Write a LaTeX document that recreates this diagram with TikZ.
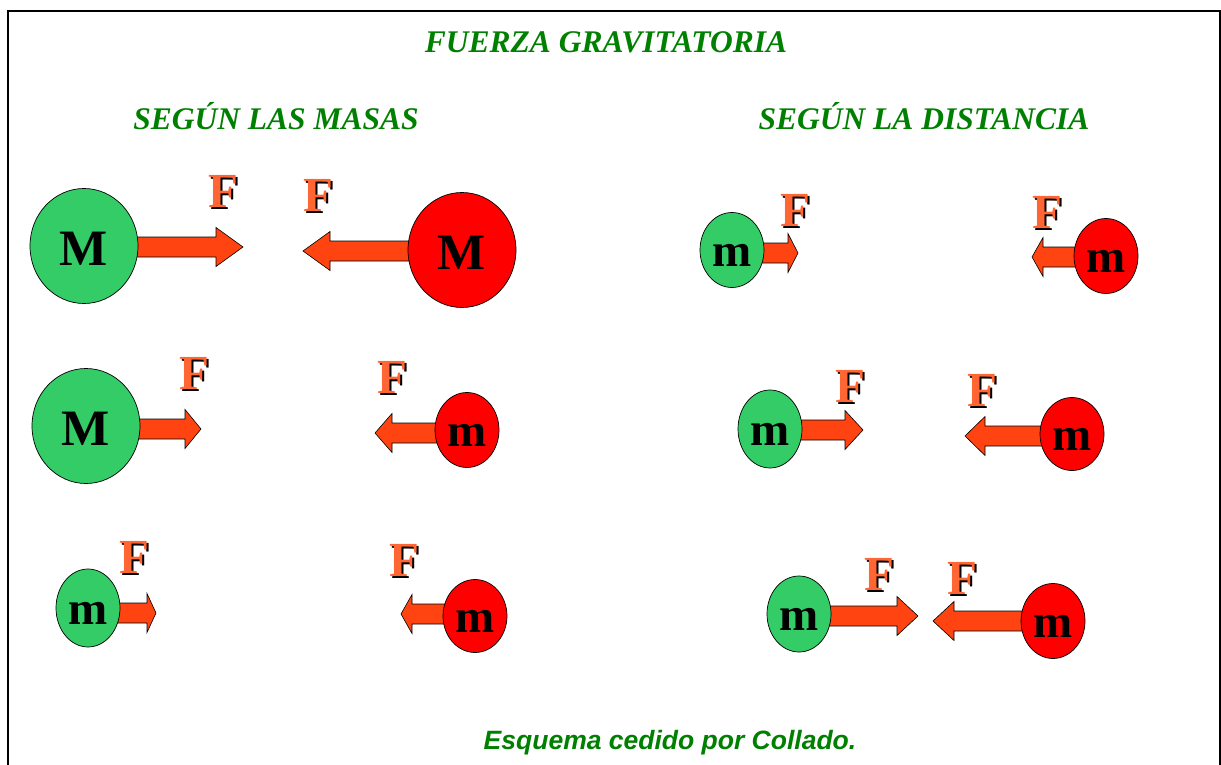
\documentclass[tikz,border=0pt]{standalone}
\usepackage{fontspec}
\setmainfont{Liberation Serif}
\newfontfamily\arialfont{Liberation Sans}
\usetikzlibrary{shapes.geometric,calc,backgrounds}
\definecolor{verdetit}{RGB}{0,128,0}
\definecolor{verdemasa}{RGB}{51,204,102}
\definecolor{rojomasa}{RGB}{255,0,0}
\definecolor{flechacol}{RGB}{255,68,17}
\definecolor{efecol}{RGB}{255,102,51}
\newcommand{\efe}{\makebox[0pt][l]{\hspace*{2pt}\raisebox{-2pt}[0pt][0pt]{\color{black}F}}\textcolor{efecol}{F}}

\begin{document}
\begin{tikzpicture}[
			x=1pt,y=-1pt,
			masa/.style={
				draw=black,
				line width=0.7pt,
				ellipse,
				inner sep=0pt,
				minimum width=64pt,
				minimum height=75pt,
				font=\fontsize{47}{50}\selectfont\bfseries,
				text height=33pt,
				text depth=0pt
			},
			grande/.style={
				minimum width=108pt,
				minimum height=115pt,
				font=\fontsize{51}{54}\selectfont\bfseries,
				text height=38pt
			},
			verde/.style={masa, fill=verdemasa},
			roja/.style={masa, fill=rojomasa},
			efe/.style={inner sep=0pt, font=\fontsize{49}{52}\selectfont\bfseries},
			titulo/.style={text=verdetit, font=\fontsize{31.5}{36}\selectfont\bfseries\itshape},
			fuerza/.style={
				draw=black,
				line width=0.6pt,
				fill=flechacol,
				to path={let \p1=(\tikztostart), \p2=(\tikztotarget), \n1={ifthenelse(\x2>\x1,1,-1)} in
					(\x1,\y2+10pt) -- (\x2-\n1*#1,\y2+10pt) -- (\x2-\n1*#1,\y2+19.5pt)
					-- (\x2,\y2) -- (\x2-\n1*#1,\y2-19.5pt) -- (\x2-\n1*#1,\y2-10pt)
					-- (\x1,\y2-10pt) -- cycle}
			},
			fuerza/.default=22pt
			]
			\useasboundingbox (0,0) rectangle (1221,765);
			\clip (0,0) rectangle (1221,765);
			
			% Frame
			\draw[line width=1.5pt] (8,775) -- (8,11) -- (1220,11) -- (1220,775);
			
			% Titles
			\node[titulo] (tit) at (606,42) {FUERZA GRAVITATORIA};
			\node[titulo] (masas) at (276,116) {SEGÚN LAS MASAS};
			\node[titulo] (dist) at (924,116) {SEGÚN LA DISTANCIA};
			\node[text=verdetit, font=\arialfont\fontsize{26.5}{30}\selectfont\bfseries\itshape] (pie) at (670,743) {Esquema cedido por Collado.};
			
			% Masses, left column
			\node[verde, grande] (gM1) at (84,246) {M};
			\node[roja, grande] (rM1) at (462,250) {M};
			\node[verde, grande] (gM2) at (86,426) {M};
			\node[roja] (rm2) at (467,430) {m};
			\node[verde, minimum height=78pt] (gm3) at (88,608) {m};
			\node[roja, minimum height=73pt] (rm3) at (475,616) {m};
			
			% Masses, right column
			\node[verde] (gd1) at (732,250) {m};
			\node[roja] (rd1) at (1106,256) {m};
			\node[verde, minimum height=78pt] (gd2) at (770,429) {m};
			\node[roja, minimum height=73pt] (rd2) at (1072,434) {m};
			\node[verde, minimum height=76pt] (gd3) at (799,614) {m};
			\node[roja] (rd3) at (1053,621) {m};
			
			% Arrow tips
			\coordinate (t1) at (243,247);
			\coordinate (t2) at (303,251);
			\coordinate (t3) at (201,429);
			\coordinate (t4) at (375,433);
			\coordinate (t5) at (156,613);
			\coordinate (t6) at (401,614);
			\coordinate (t7) at (798,253);
			\coordinate (t8) at (1032,257);
			\coordinate (t9) at (863,430);
			\coordinate (t10) at (965,436);
			\coordinate (t11) at (918,616);
			\coordinate (t12) at (933,621);
			
			% Forces
			\begin{scope}[on background layer]
				\draw[fuerza=27pt] (gM1.center) to (t1);
				\draw[fuerza=27pt] (rM1.center) to (t2);
				\draw[fuerza=16pt] (gM2.center) to (t3);
				\draw[fuerza=17pt] (rm2.center) to (t4);
				\draw[fuerza=9pt] (gm3.center) to (t5);
				\draw[fuerza=11pt] (rm3.center) to (t6);
				\draw[fuerza=10pt] (gd1.center) to (t7);
				\draw[fuerza=11pt] (rd1.center) to (t8);
				\draw[fuerza=18pt] (gd2.center) to (t9);
				\draw[fuerza=20pt] (rd2.center) to (t10);
				\draw[fuerza=21pt] (gd3.center) to (t11);
				\draw[fuerza=21pt] (rd3.center) to (t12);
			\end{scope}
			
			% F labels
			\node[efe] (f1) at (223,191) {\efe};
			\node[efe] (f2) at (318,195) {\efe};
			\node[efe] (f3) at (194,373) {\efe};
			\node[efe] (f4) at (392,377) {\efe};
			\node[efe] (f5) at (134,557) {\efe};
			\node[efe] (f6) at (404,560) {\efe};
			\node[efe] (f7) at (795,210) {\efe};
			\node[efe] (f8) at (1047,212) {\efe};
			\node[efe] (f9) at (850,386) {\efe};
			\node[efe] (f10) at (982,390) {\efe};
			\node[efe] (f11) at (879,574) {\efe};
			\node[efe] (f12) at (962,578) {\efe};
		\end{tikzpicture}
\end{document}
